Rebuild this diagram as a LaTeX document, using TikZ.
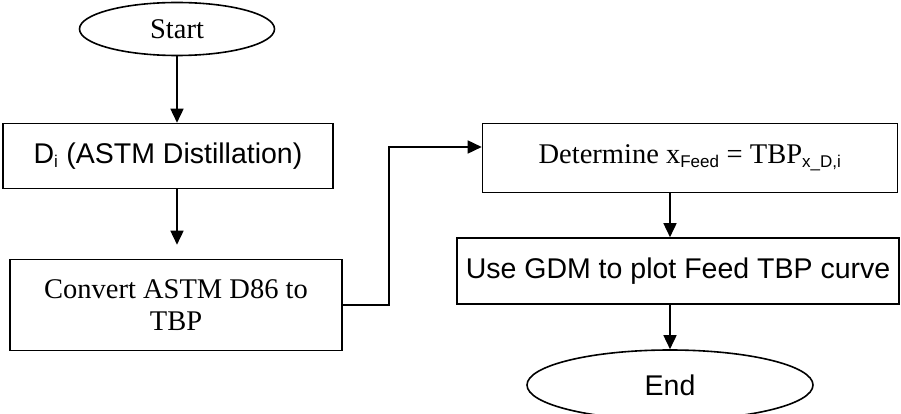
\documentclass[tikz,border=0pt]{standalone}
\usepackage{fontspec}
\setmainfont{Liberation Serif}
\setsansfont{Liberation Sans}
\usetikzlibrary{arrows.meta, positioning, shapes.geometric}

\newcommand\lowtext[1]{\textsubscript{\fontsize{17}{17}\selectfont\sffamily #1}}

\tikzset{
  flowbox/.style={draw, line width=1.6pt, rectangle, inner sep=0pt, align=center},
  terminal/.style={draw, line width=1.6pt, ellipse, inner sep=0pt},
  serifbig/.style={font=\fontsize{28.5}{32}\selectfont},
  sansbig/.style={font=\fontsize{28.5}{32}\selectfont\sffamily},
  flow/.style={line width=1.6pt, -{Triangle[length=14pt,width=13pt]}}
}

\begin{document}
\begin{tikzpicture}[x=1pt, y=-1pt]
\useasboundingbox (0,0) rectangle (901,414);
\clip (0,0) rectangle (901,414);
% left column
\node [terminal, serifbig, minimum width=195pt, minimum height=53pt] (start) at (177,29) {Start};
\node [flowbox, sansbig, minimum width=330pt, minimum height=65pt] (dist) at (168,156) {D\lowtext{i} (ASTM Distillation)};
\node [flowbox, serifbig, minimum width=332pt, minimum height=91pt] (conv) at (176,305) {Convert ASTM D86 to\\TBP};
% right column
\node [flowbox, serifbig, minimum width=415pt, minimum height=69pt] (det) at (690,158) {Determine x\lowtext{Feed} = TBP\lowtext{x\_D,i}};
\node [flowbox, sansbig, minimum width=442pt, minimum height=66pt] (gdm) at (678,271) {Use GDM to plot Feed TBP curve};
\node [terminal, sansbig, minimum width=286pt, minimum height=70pt] (stop) at (670,385) {End};
% connectors
\draw [flow] (start.south) -- (start |- dist.north);
\draw [flow, shorten >=14pt] (start |- dist.south) -- (start |- conv.north);
\draw [flow] (conv.east) -- ++(46,0) |- ([yshift=11pt]det.west);
\draw [flow] (stop |- det.south) -- (stop |- gdm.north);
\draw [flow] (stop |- gdm.south) -- (stop.north);
\end{tikzpicture}
\end{document}
